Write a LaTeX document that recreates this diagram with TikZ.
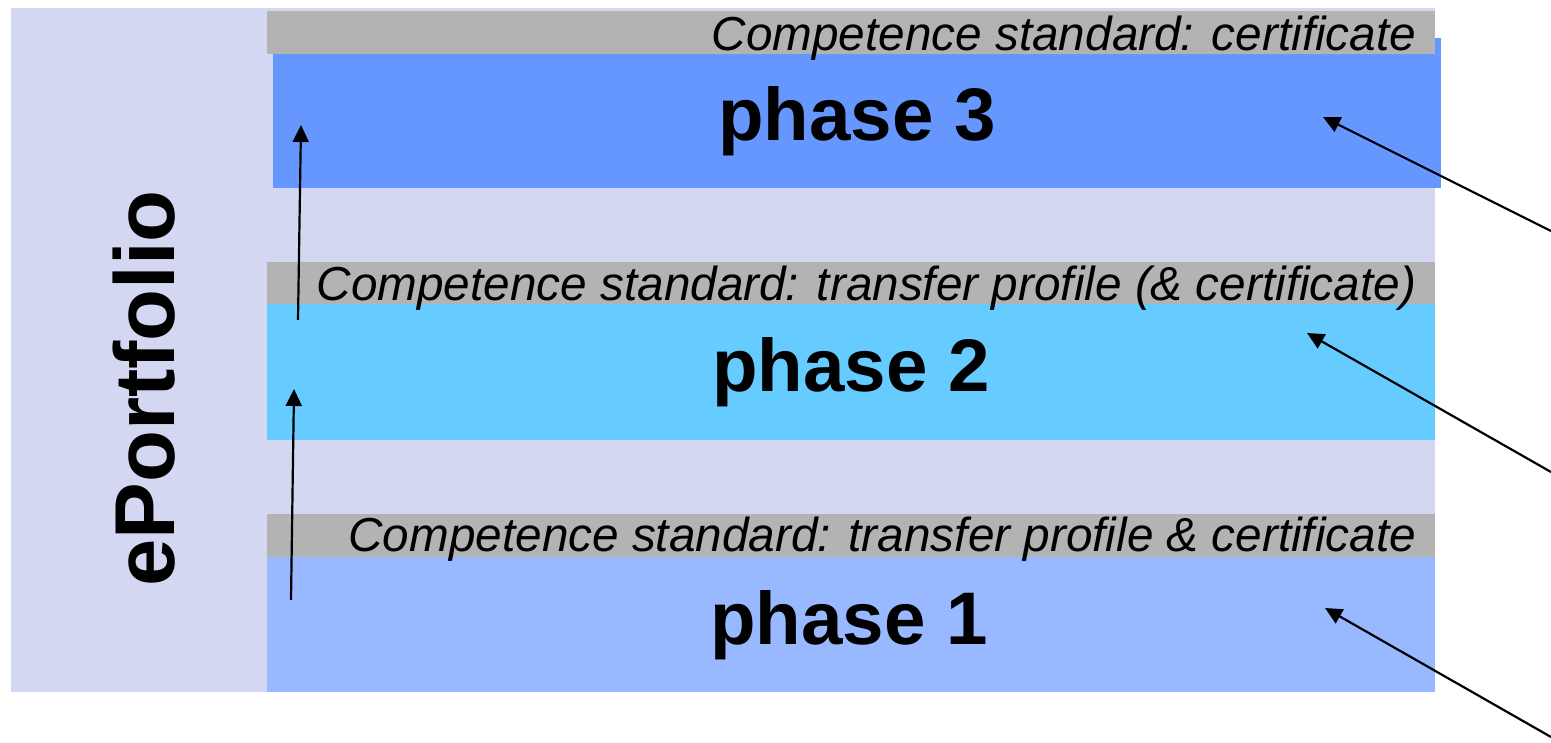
\documentclass[tikz,border=0pt]{standalone}
\usepackage{fontspec}
\setmainfont{Liberation Sans}
\usetikzlibrary{arrows.meta}
\definecolor{lav}{HTML}{D3D7F2}
\definecolor{band}{HTML}{B3B3B3}
\definecolor{bluethree}{HTML}{6697FF}
\definecolor{bluetwo}{HTML}{66CBFF}
\definecolor{blueone}{HTML}{98B8FF}
\begin{document}
\begin{tikzpicture}[x=0.5pt,y=-0.5pt,
  lbl/.style={inner sep=0pt, anchor=base east, font=\fontsize{23.85}{28}\selectfont\itshape},
  ph/.style={inner sep=0pt, anchor=base, font=\fontsize{37.25}{44}\selectfont\bfseries},
  vert/.style={inner sep=0pt, anchor=base, rotate=90, font=\fontsize{42.5}{50}\selectfont\bfseries},
  conn/.style={line width=1.1pt, -{Triangle[length=8.5pt,width=8pt]}}]
\useasboundingbox (0,0) rectangle (1551,743);
\fill[lav] (11,8) rectangle (1435,692);
\fill[bluethree] (273,38) rectangle (1441,188);
\fill[band] (267,11) rectangle (1435,54);
\fill[bluetwo] (267,304) rectangle (1435,440);
\fill[band] (267,262) rectangle (1435,304);
\fill[blueone] (267,557) rectangle (1435,692);
\fill[band] (267,514) rectangle (1435,557);
\node[lbl] (l3) at (1416.5,50.3) {Competence standard: certificate};
\node[lbl] (l2) at (1416.5,300.3) {Competence standard: transfer profile (\& certificate)};
\node[lbl] (l1) at (1416.5,551.7) {Competence standard: transfer profile \& certificate};
\node[ph] (p3) at (857,140.7) {phase 3};
\node[ph] (p2) at (851,391.7) {phase 2};
\node[ph] (p1) at (849,644) {phase 1};
\node[vert] (ep) at (174,388.5) {ePortfolio};
\coordinate (a1s) at (291,600);
\coordinate (a1e) at (294,389);
\coordinate (a2s) at (298,320);
\coordinate (a2e) at (301,125);
\coordinate (r3s) at (1551,231);
\coordinate (r3e) at (1323,117);
\coordinate (r2s) at (1551,472);
\coordinate (r2e) at (1307,333);
\coordinate (r1s) at (1551,737);
\coordinate (r1e) at (1325,608);
\draw[conn] (a1s) -- (a1e);
\draw[conn] (a2s) -- (a2e);
\draw[conn] (r3s) -- (r3e);
\draw[conn] (r2s) -- (r2e);
\draw[conn] (r1s) -- (r1e);
\end{tikzpicture}
\end{document}
